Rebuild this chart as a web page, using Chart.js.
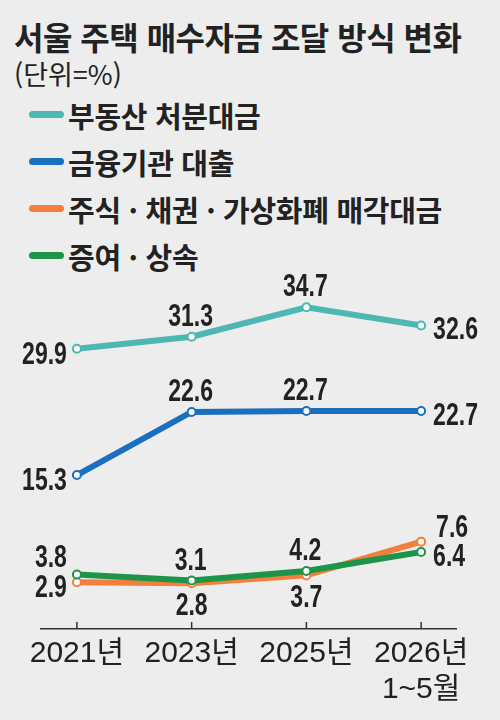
<!DOCTYPE html>
<html lang="ko">
<head>
<meta charset="utf-8">
<script src="https://cdn.jsdelivr.net/npm/chart.js@4"></script>
<style>
  body { margin: 0; width: 500px; height: 720px; background: #ededed; overflow: hidden;
         font-family: "Noto Sans CJK KR", sans-serif; color: #222; position: relative; }
  #title { position: absolute; left: 14px; top: 14px; font-size: 32px; font-weight: bold;
           letter-spacing: -0.5px; line-height: 44px; white-space: nowrap; }
  #unit { position: absolute; left: 14px; top: 56px; font-size: 27px; line-height: 36px; }
  #legend { position: absolute; left: 29px; top: 91px; }
  .item { height: 47px; display: flex; align-items: center; font-size: 29px; font-weight: bold;
          letter-spacing: -0.3px; white-space: nowrap; }
  .swatch { width: 35px; height: 7px; border-radius: 4px; margin-right: 4px; }
  #wrap { position: absolute; left: 0; top: 270px; width: 500px; height: 450px; }
</style>
</head>
<body>
<div id="title">서울 주택 매수자금 조달 방식 변화</div>
<div id="unit">(단위=%)</div>
<div id="legend"></div>
<div id="wrap"><canvas id="myChart" width="500" height="450"></canvas></div>
<script>
const xLabels = ["2021년", "2023년", "2025년", ["2026년", "1~5월"]];
const seriesNames = ["부동산 처분대금", "금융기관 대출", "주식 · 채권 · 가상화폐 매각대금", "증여 · 상속"];
const realEstate = [29.9, 31.3, 34.7, 32.6];
const loans = [15.3, 22.6, 22.7, 22.7];
const stocks = [2.9, 2.8, 3.7, 7.6];
const gifts = [3.8, 3.1, 4.2, 6.4];

const colors = ["#4db7b1", "#1a6fbf", "#f27f3b", "#1e9449"];
// where each value label sits around its point
const labelPos = [
    ["left", "top", "top", "right"],
    ["left", "top", "top", "right"],
    ["left", "bottom", "bottom", "topright"],
    ["topleft", "top", "top", "right"]
];

const ctx = document.getElementById('myChart');
const numFont = 'bold 32px "Liberation Sans", Arial, sans-serif';

// legend
const legend = document.querySelector('#legend');
seriesNames.forEach((name, i) => {
    const row = document.createElement('div');
    row.className = 'item';
    row.innerHTML = '<span class="swatch" style="background:' + colors[i] + '"></span>' + name;
    legend.appendChild(row);
});

function toPoints(arr) {
    return arr.map((v, i) => ({ x: i, y: v }));
}

// small tick marks pointing up from the axis
const innerTicks = {
    id: 'innerTicks',
    afterDraw(chart) {
        const c = chart.ctx;
        const xs = chart.scales.x;
        const bottom = chart.chartArea.bottom;
        c.save();
        c.strokeStyle = '#333';
        c.lineWidth = 1.5;
        xs.ticks.forEach(t => {
            const px = xs.getPixelForValue(t.value);
            c.beginPath();
            c.moveTo(px, bottom - 7);
            c.lineTo(px, bottom);
            c.stroke();
        });
        c.restore();
    }
};

// value labels (squeezed to look like a condensed face)
const valueLabels = {
    id: 'valueLabels',
    afterDatasetsDraw(chart) {
        const c = chart.ctx;
        chart.data.datasets.forEach((ds, i) => {
            const meta = chart.getDatasetMeta(i);
            meta.data.forEach((el, j) => {
                const txt = ds.data[j].y.toFixed(1);
                const pos = labelPos[i][j];
                let x = el.x, y = el.y, align = 'center';
                if (pos == "left") { align = 'right'; x -= 10; y += 15; }
                else if (pos == "right") { align = 'left'; x += 12; y += 14; }
                else if (pos == "top") { x -= 1; y -= 11; }
                else if (pos == "bottom") { y += 32; }
                else if (pos == "topleft") { align = 'right'; x -= 10; y -= 8; }
                else if (pos == "topright") { align = 'left'; x += 15; y -= 5; }
                c.save();
                c.font = numFont;
                c.fillStyle = '#222';
                c.textBaseline = 'alphabetic';
                c.textAlign = align;
                c.translate(x, y);
                c.scale(0.72, 1);
                c.fillText(txt, 0, 0);
                c.restore();
            });
        });
    }
};

const allSeries = [realEstate, loans, stocks, gifts];

new Chart(ctx, {
    type: 'line',
    data: {
        datasets: allSeries.map((arr, i) => ({
            label: seriesNames[i],
            data: toPoints(arr),
            borderColor: colors[i],
            borderWidth: 6,
            pointRadius: 4,
            pointBorderWidth: 2,
            pointBackgroundColor: '#fff',
            pointBorderColor: colors[i],
            tension: 0,
            order: i == 3 ? 0 : 1
        }))
    },
    options: {
        responsive: false,
        animation: false,
        layout: { padding: { top: 20, left: 41, right: 44, bottom: 0 } },
        plugins: { legend: { display: false }, tooltip: { enabled: false } },
        scales: {
            x: {
                type: 'linear',
                min: -0.313,
                max: 3.304,
                afterBuildTicks: (scale) => {
                    scale.ticks = xLabels.map((l, i) => ({ value: i }));
                },
                afterFit: (scale) => {
                    scale.height = 91;
                    scale.paddingLeft = 0;
                    scale.paddingRight = 0;
                },
                grid: { display: false },
                border: { display: true, color: '#333', width: 1.5 },
                ticks: {
                    padding: -1,
                    autoSkip: false,
                    maxRotation: 0,
                    color: '#222',
                    font: { family: '"Liberation Sans", "Noto Sans CJK KR", sans-serif', size: 30, lineHeight: 1.2 },
                    callback: (v) => xLabels[v]
                }
            },
            y: {
                display: false,
                min: -2.5,
                max: 36.7
            }
        }
    },
    plugins: [innerTicks, valueLabels]
});
</script>
</body>
</html>
